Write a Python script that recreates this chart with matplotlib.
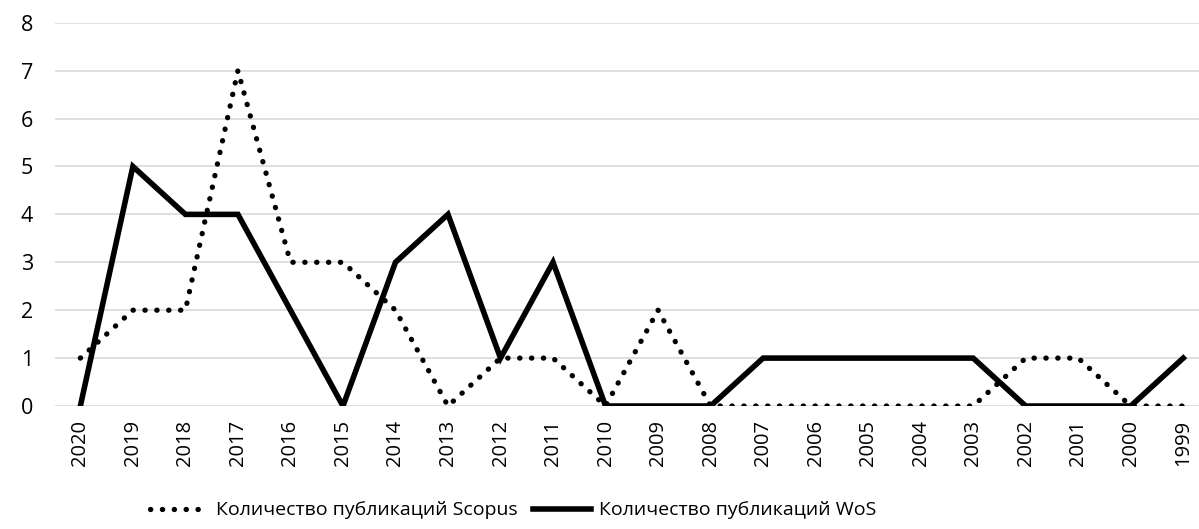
#!/usr/bin/env python3
"""Publications per year: Scopus vs WoS."""

import matplotlib

matplotlib.use("Agg")
import matplotlib.pyplot as plt

years = [str(y) for y in range(2020, 1998, -1)]
scopus = [1, 2, 2, 7, 3, 3, 2, 0, 1, 1, 0, 2, 0, 0, 0, 0, 0, 0, 1, 1, 0, 0]
wos = [0, 5, 4, 4, 2, 0, 3, 4, 1, 3, 0, 0, 0, 1, 1, 1, 1, 1, 0, 0, 0, 1]

plt.rcParams["font.family"] = ["Open Sans", "DejaVu Sans"]

fig = plt.figure(figsize=(11.99, 5.29), dpi=100)
ax = fig.add_axes([0.046, 0.2325, 0.954, 0.7245])

x = range(len(years))
ax.plot(x, scopus, color="black", linewidth=3.8, linestyle=(0, (0.05, 2.2)),
        dash_capstyle="round", solid_capstyle="round",
        label="Количество публикаций Scopus")
ax.plot(x, wos, color="black", linewidth=4.0, solid_joinstyle="miter",
        label="Количество публикаций WoS")

ax.set_ylim(0, 8)
ax.set_yticks(range(0, 9))
ax.set_xlim(-0.48, 21.3)
ax.set_xticks(list(x))
ax.set_xticklabels(years, rotation=90, fontsize=14.5)
ax.tick_params(axis="y", labelsize=15.5, length=0, pad=16)
ax.tick_params(axis="x", length=0, pad=10)
ax.grid(axis="y", color="#d9d9d9", linewidth=1.2)
ax.set_axisbelow(True)
for s in ax.spines.values():
    s.set_visible(False)

fig.legend(loc="lower center", bbox_to_anchor=(0.428, -0.015), ncol=2,
           frameon=False, fontsize=14, handlelength=3.0, columnspacing=0.8,
           handletextpad=0.4)

fig.savefig("out.png", dpi=100)
